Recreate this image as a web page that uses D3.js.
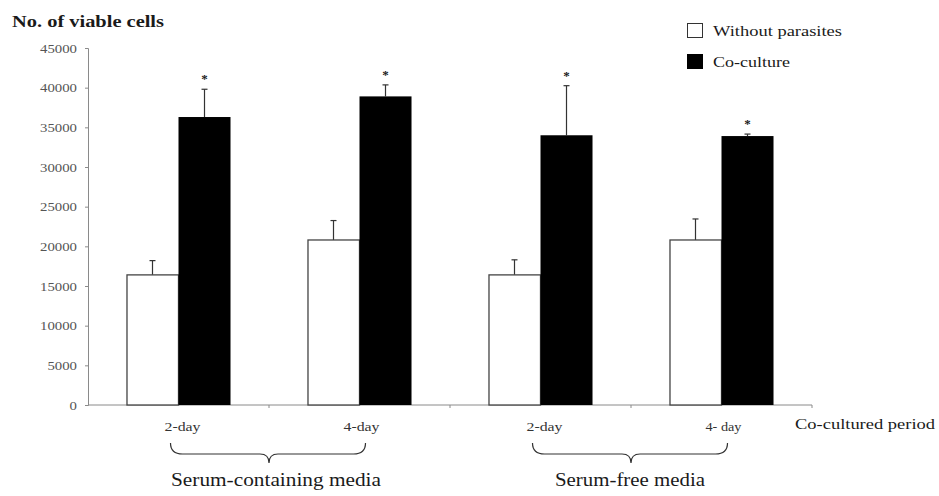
<!DOCTYPE html>
<html>
<head>
<meta charset="utf-8">
<script src="https://cdn.jsdelivr.net/npm/d3@7"></script>
<style>
  html, body { margin: 0; padding: 0; background: #fff; }
  svg { display: block; }
  svg text { font-family: "Liberation Serif", "DejaVu Serif", serif; }
</style>
</head>
<body>
<svg id="chart" width="939" height="496"></svg>
<script>
// Viable cell counts after co-culture, by medium and period
const periods = ["2-day", "4-day", "2-day", "4- day"];
const media = ["Serum-containing media", "Serum-free media"];
const seriesNames = ["Without parasites", "Co-culture"];
const withoutParasites = [16400, 20800, 16400, 20800];
const withoutParasitesErr = [1800, 2450, 1900, 2650];
const coCulture = [36300, 38900, 34000, 33900];
const coCultureErr = [3500, 1450, 6250, 250];
const significant = [true, true, true, true];
const yTicks = [0, 5000, 10000, 15000, 20000, 25000, 30000, 35000, 40000, 45000];

const svg = d3.select("#chart");
const ink = "#1a1a1a";
const serif = "'Liberation Serif', 'DejaVu Serif', serif";

// stretch a label horizontally to a given width
function fit(sel, w) {
  return sel.attr("textLength", w).attr("lengthAdjust", "spacingAndGlyphs");
}

const x0 = d3.scaleBand().domain(d3.range(periods.length)).range([88, 812]).paddingInner(0).paddingOuter(0);
const x1 = d3.scaleBand().domain([0, 1]).range([0, x0.bandwidth()]).paddingInner(0).paddingOuter(0.74);
const y = d3.scaleLinear().domain([0, 45000]).range([405, 48]);

// y axis
const yAxis = svg.append("g").attr("transform", "translate(88,0)")
  .call(d3.axisLeft(y).tickValues(yTicks).tickSize(3).tickPadding(8).tickFormat(d3.format("d")));
yAxis.attr("font-family", serif);
yAxis.select(".domain").attr("stroke", "#8a8a8a");
yAxis.selectAll(".tick line").attr("stroke", "#8a8a8a");
yAxis.selectAll(".tick text").attr("fill", "#555").style("font-size", "12.5px")
  .each(function (d) { fit(d3.select(this), String(d).length * 7.4); });

// x axis with category boundary ticks
const xAxisG = svg.append("g").attr("transform", "translate(0,405)");
xAxisG.append("line").attr("x1", x0.range()[0]).attr("x2", x0.range()[1]).attr("stroke", "#8a8a8a");
xAxisG.selectAll("line.tk").data(d3.range(1, periods.length + 1)).join("line")
  .attr("class", "tk")
  .attr("x1", i => x0.range()[0] + i * x0.step()).attr("x2", i => x0.range()[0] + i * x0.step())
  .attr("y1", 0).attr("y2", 3).attr("stroke", "#8a8a8a");

const rows = periods.map((p, i) => ({
  i,
  vals: [
    { s: 0, v: withoutParasites[i], e: withoutParasitesErr[i] },
    { s: 1, v: coCulture[i], e: coCultureErr[i] }
  ]
}));

const groups = svg.append("g").selectAll("g").data(rows).join("g")
  .attr("transform", d => `translate(${x0(d.i)},0)`);

// error bars (drawn under the bars so only the upper whisker shows)
groups.selectAll("g.err").data(d => d.vals).join("g").attr("class", "err").each(function (d) {
  const g = d3.select(this);
  const cx = x1(d.s) + x1.bandwidth() / 2;
  g.append("line").attr("x1", cx).attr("x2", cx).attr("y1", y(d.v)).attr("y2", y(d.v + d.e))
    .attr("stroke", "#333").attr("stroke-width", 1.2);
  g.append("line").attr("x1", cx - 3).attr("x2", cx + 3).attr("y1", y(d.v + d.e)).attr("y2", y(d.v + d.e))
    .attr("stroke", "#333").attr("stroke-width", 1.2);
});

groups.selectAll("rect").data(d => d.vals).join("rect")
  .attr("x", d => x1(d.s) + (d.s === 0 ? 0.5 : 0))
  .attr("y", d => y(d.v))
  .attr("width", d => x1.bandwidth() - (d.s === 0 ? 0.5 : 0))
  .attr("height", d => y(0) - y(d.v))
  .attr("fill", d => d.s === 0 ? "#fff" : "#000")
  .attr("stroke", d => d.s === 0 ? "#444" : "#000")
  .attr("stroke-width", d => d.s === 0 ? 1.3 : 0);

// significance markers
groups.append("text")
  .attr("x", x1(1) + x1.bandwidth() / 2)
  .attr("y", d => y(coCulture[d.i] + coCultureErr[d.i]) - 6)
  .attr("text-anchor", "middle")
  .attr("fill", ink).style("font-size", "13px").style("font-weight", "bold")
  .text(d => significant[d.i] ? "*" : "");

// period labels
svg.append("g").selectAll("text").data(periods).join("text")
  .attr("x", (d, i) => x0(i) + x0.bandwidth() / 2 + (i % 2 === 0 ? 4 : 2))
  .attr("y", 431)
  .attr("text-anchor", "middle")
  .attr("fill", "#333").style("font-size", "13px")
  .attr("textLength", 36).attr("lengthAdjust", "spacingAndGlyphs")
  .text(d => d);

fit(svg.append("text").attr("x", 795).attr("y", 429)
  .attr("fill", ink).style("font-size", "15px")
  .text("Co-cultured period"), 140);

// braces grouping the periods by medium
const mediaWidths = [210, 150];
media.forEach((m, k) => {
  const a = x0(2 * k) + x0.bandwidth() / 2 - 8;
  const b = x0(2 * k + 1) + x0.bandwidth() / 2 + 6;
  const tip = x0(2 * k + 1);
  const yt = 443, ym = 454, yb = 463;
  const path = `M${a},${yt} Q${a},${ym} ${a + 12},${ym} L${tip - 9},${ym} Q${tip},${ym} ${tip},${yb}` +
    ` Q${tip},${ym} ${tip + 9},${ym} L${b - 12},${ym} Q${b},${ym} ${b},${yt}`;
  svg.append("path").attr("d", path).attr("fill", "none").attr("stroke", "#333").attr("stroke-width", 1.2);
  fit(svg.append("text").attr("x", (a + b) / 2 + (k === 0 ? 8 : 0)).attr("y", 486)
    .attr("text-anchor", "middle").attr("fill", ink).style("font-size", "18px")
    .text(m), mediaWidths[k]);
});

// title
fit(svg.append("text").attr("x", 12).attr("y", 27)
  .attr("fill", ink).style("font-size", "17px").style("font-weight", "bold")
  .text("No. of viable cells"), 152);

// legend
const legendWidths = [129, 77];
const legend = svg.append("g").attr("transform", "translate(687,23)");
seriesNames.forEach((n, i) => {
  legend.append("rect").attr("x", 0.5).attr("y", i * 31 + 0.5).attr("width", 15).attr("height", 14)
    .attr("fill", i === 0 ? "#fff" : "#000").attr("stroke", i === 0 ? "#333" : "#000");
  fit(legend.append("text").attr("x", 26).attr("y", i * 31 + 13)
    .attr("fill", ink).style("font-size", "14.5px").text(n), legendWidths[i]);
});
</script>
</body>
</html>
